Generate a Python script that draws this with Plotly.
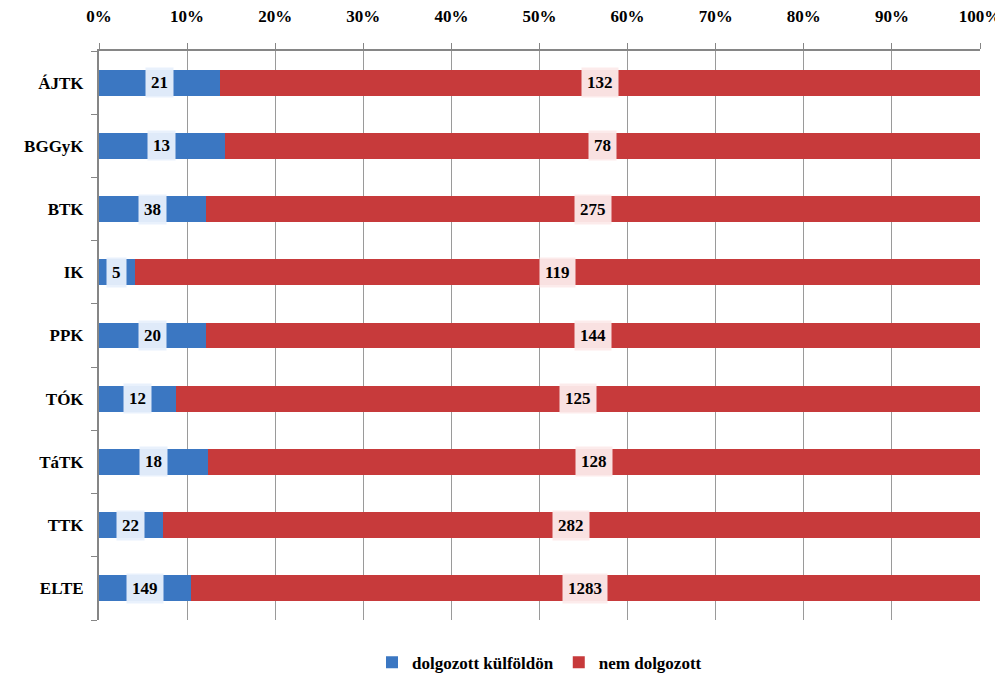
import plotly.graph_objects as go

categories = ["ÁJTK", "BGGyK", "BTK", "IK", "PPK", "TÓK", "TáTK", "TTK", "ELTE"]
abroad = [21, 13, 38, 5, 20, 12, 18, 22, 149]
not_worked = [132, 78, 275, 119, 144, 125, 128, 282, 1283]
x_ticks = [0, 10, 20, 30, 40, 50, 60, 70, 80, 90, 100]

font_family = "Liberation Serif"
blue = "#3b77c2"
red = "#c73a3b"

fig = go.Figure()
fig.add_trace(go.Bar(y=categories, x=abroad, orientation="h", name="dolgozott külföldön",
                     marker=dict(color=blue, line=dict(width=0)), hoverinfo="x+y"))
fig.add_trace(go.Bar(y=categories, x=not_worked, orientation="h", name="nem dolgozott",
                     marker=dict(color=red, line=dict(width=0)), hoverinfo="x+y"))

annotations = []
for c, a, n in zip(categories, abroad, not_worked):
    tot = a + n
    pa = a / tot * 100
    annotations.append(dict(x=pa / 2, y=c, text=f"<b>{a}</b>", showarrow=False,
                            xref="x", yref="y", bgcolor="rgba(232,240,252,0.95)",
                            font=dict(family=font_family, size=17, color="black"),
                            borderpad=5))
    annotations.append(dict(x=pa + (100 - pa) / 2, y=c, text=f"<b>{n}</b>", showarrow=False,
                            xref="x", yref="y", bgcolor="rgba(252,234,234,0.95)",
                            font=dict(family=font_family, size=17, color="black"),
                            borderpad=5))

fig.update_layout(
    barmode="stack",
    barnorm="percent",
    bargap=0.59,
    width=995, height=668,
    paper_bgcolor="white", plot_bgcolor="white",
    margin=dict(l=91, r=23, t=43, b=56, autoexpand=False),
    font=dict(family=font_family, size=17, color="black"),
    showlegend=True,
    legend=dict(orientation="h", x=0.5, xanchor="center", y=-0.075, yanchor="middle",
                font=dict(family="Liberation Serif", size=17, color="black", weight="bold"),
                traceorder="normal", itemwidth=30),
    annotations=annotations,
    xaxis=dict(side="top", range=[0, 100], tickvals=x_ticks,
               ticktext=[f"<b>{v}%</b>" for v in x_ticks],
               showgrid=True, gridcolor="#9a9a9a", gridwidth=1,
               showline=True, linecolor="#868686", linewidth=2,
               ticks="outside", ticklen=6, tickcolor="#868686", tickwidth=1,
               ticklabelstandoff=14, automargin=False,
               zeroline=False, tickfont=dict(family=font_family, size=17)),
    yaxis=dict(autorange="reversed", categoryorder="array", categoryarray=categories,
               showline=True, linecolor="#868686", linewidth=2,
               ticks="outside", ticklen=6, tickcolor="#868686", tickson="boundaries",
               ticktext=[f"<b>{c}</b>" for c in categories], tickvals=categories,
               tickfont=dict(family=font_family, size=17), ticklabelstandoff=10,
               automargin=False, showgrid=False),
)

fig.write_html("out.html")
